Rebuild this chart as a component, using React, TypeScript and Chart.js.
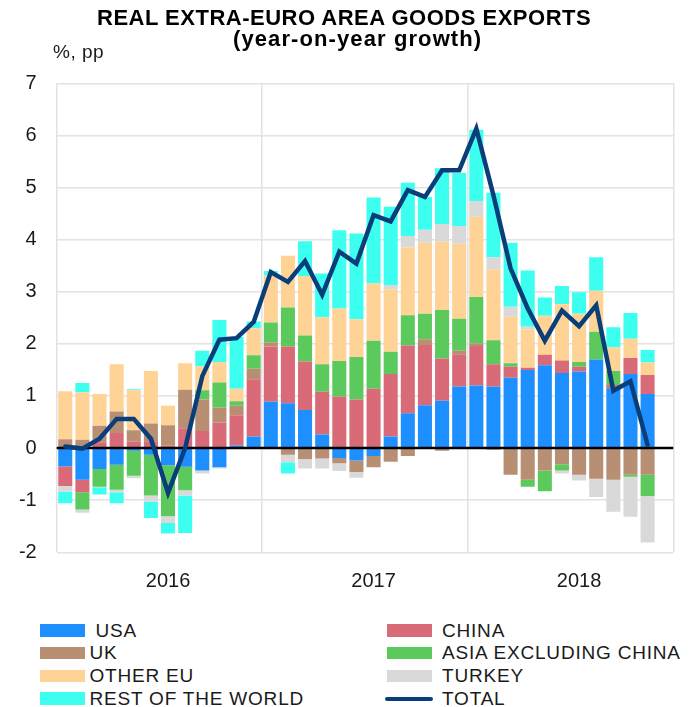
import React, { useEffect, useRef } from 'react';
import { Chart, registerables } from 'chart.js';

Chart.register(...registerables);

// ---- Data (monthly, Jan 2016 – Nov 2018; contributions in pp, total in %) ----
const years = ['2016', '2017', '2018'];

const usa = [
  -0.35, -0.61, -0.40, -0.32, -0.05, -0.13, -0.33, -0.36, -0.43, -0.37, 0.05, 0.22,
  0.89, 0.86, 0.73, 0.26, -0.19, -0.24, -0.15, 0.22, 0.67, 0.82, 0.91, 1.18,
  1.20, 1.18, 1.35, 1.50, 1.59, 1.44, 1.47, 1.70, 1.15, 1.42, 1.04,
];
const china = [
  -0.38, -0.24, 0.11, 0.29, 0.12, 0.13, 0.05, 0.38, 0.33, 0.49, 0.58, 1.10,
  1.06, 1.09, 0.93, 0.82, 0.99, 0.93, 1.14, 1.20, 1.30, 1.16, 0.81, 0.62,
  0.76, 0.43, 0.21, 0.04, 0.20, 0.24, 0.09, 0.0, 0.06, 0.31, 0.36,
];
const uk = [
  0.17, 0.16, 0.32, 0.41, 0.22, 0.34, 0.39, 0.74, 0.60, 0.29, 0.18, 0.20,
  0.08, -0.13, -0.21, -0.20, -0.10, -0.22, -0.22, -0.26, -0.15, 0.11, -0.05, 0.07,
  0.05, -0.03, -0.51, -0.61, -0.43, -0.31, -0.51, -0.59, -0.61, -0.51, -0.51,
];
const asiaExChina = [
  0.0, -0.33, -0.34, -0.48, -0.48, -0.78, -0.98, -0.45, 0.18, 0.48, 0.09, 0.26,
  0.38, 0.75, 0.50, 0.53, 0.68, 0.82, 0.92, 0.43, 0.58, 0.49, 0.93, 0.61,
  0.89, 0.46, 0.07, -0.13, -0.40, -0.12, 0.09, 0.53, 0.27, -0.04, -0.41,
];
const otherEu = [
  0.92, 0.91, 0.61, 0.91, 0.77, 1.01, 0.37, 0.51, 0.46, 0.39, 0.24, 0.52,
  0.90, 0.99, 1.14, 0.90, 1.01, 0.72, 1.10, 1.20, 1.30, 1.36, 1.31, 1.44,
  1.54, 1.36, 0.89, 0.74, 0.75, 1.08, 0.93, 0.79, 0.45, 0.37, 0.24,
];
const turkey = [
  -0.11, -0.06, -0.01, -0.05, -0.05, -0.12, -0.13, -0.10, -0.06, -0.02, 0.0, 0.0,
  0.0, -0.14, -0.18, -0.19, -0.15, -0.11, 0.0, 0.08, 0.22, 0.25, 0.34, 0.34,
  0.30, 0.23, 0.19, 0.05, 0.0, -0.06, -0.11, -0.35, -0.61, -0.77, -0.89,
];
const restOfWorld = [
  -0.22, 0.18, -0.14, -0.21, 0.02, -0.31, -0.20, -0.72, 0.30, 0.81, 0.99, 0.13,
  0.09, -0.22, 0.67, 0.84, 1.50, 1.65, 1.65, 1.50, 1.02, 0.63, 1.07, 1.02,
  1.37, 1.24, 1.23, 1.08, 0.35, 0.35, 0.41, 0.64, 0.39, 0.49, 0.24,
];
const total = [
  0.03, -0.01, 0.18, 0.56, 0.56, 0.18, -0.86, 0.0, 1.38, 2.08, 2.11, 2.42,
  3.38, 3.19, 3.59, 2.94, 3.77, 3.54, 4.47, 4.35, 4.95, 4.82, 5.33, 5.33,
  6.13, 4.85, 3.45, 2.68, 2.06, 2.64, 2.34, 2.74, 1.10, 1.28, 0.06,
];

const seriesNames = ['USA', 'CHINA', 'UK', 'ASIA EXCLUDING CHINA', 'OTHER EU', 'TURKEY', 'REST OF THE WORLD', 'TOTAL'];
const yTicks = [-2, 7];

// ---- Styles ----
const FONT = '"Liberation Sans", Arial, Helvetica, sans-serif';
const TEXT = '#1a1a1a';
const GRID = '#e2e2e2';
const barColors = ['#1e8fff', '#d96b78', '#b88f73', '#5cc95c', '#ffd395', '#d9d9d9', '#3cfff0'];
const lineColor = '#0a3e7b';

// one category per month; a year label at the middle month of each year
const categories: string[] = [];
years.forEach((y) => {
  for (let m = 0; m < 12; m++) categories.push(m === 6 ? y : '');
});

const zeroLine = {
  id: 'zeroLine',
  beforeDatasetDraw(chart: any, args: any) {
    if (args.index !== 7) return;
    const ctx = chart.ctx;
    const y = chart.scales.y.getPixelForValue(0);
    const { left, right } = chart.chartArea;
    ctx.save();
    ctx.strokeStyle = '#000';
    ctx.lineWidth = 2.5;
    ctx.beginPath();
    ctx.moveTo(left, y);
    ctx.lineTo(right, y);
    ctx.stroke();
    ctx.restore();
  },
};

const legendLeft = [0, 2, 4, 6];
const legendRight = [1, 3, 5, 7];
const rowBaselines = [636.7, 659.5, 682.5, 705];

export default function App() {
  const ref = useRef<HTMLCanvasElement | null>(null);

  useEffect(() => {
    if (!ref.current) return;
    const series = [usa, china, uk, asiaExChina, otherEu, turkey, restOfWorld];
    const barSets = series.map((d, i) => ({
      type: 'bar' as const,
      label: seriesNames[i],
      data: d,
      backgroundColor: barColors[i],
      borderWidth: 0,
      stack: 'bars',
      order: 1,
      categoryPercentage: 1,
      barPercentage: 0.82,
    }));
    const chart = new Chart(ref.current, {
      type: 'bar',
      data: {
        labels: categories,
        datasets: [
          ...barSets,
          {
            type: 'line' as const,
            label: seriesNames[7],
            data: total,
            borderColor: lineColor,
            backgroundColor: lineColor,
            borderWidth: 4.5,
            pointRadius: 0,
            tension: 0,
            stack: 'total',
            order: 0,
            borderCapStyle: 'round',
            borderJoinStyle: 'miter',
          } as any,
        ],
      },
      options: {
        responsive: false,
        animation: false,
        layout: { padding: { left: 0, right: 17.7, top: 83.3, bottom: 0 } },
        plugins: {
          legend: { display: false },
          title: { display: false },
          tooltip: { enabled: false },
        },
        scales: {
          x: {
            stacked: true,
            grid: {
              offset: true,
              drawTicks: false,
              lineWidth: 1.5,
              color: (c: any) => {
                if (c.type !== 'tick') return GRID;
                return c.index % 12 === 0 ? GRID : 'rgba(0,0,0,0)';
              },
            },
            border: { display: false },
            ticks: {
              autoSkip: false,
              maxRotation: 0,
              minRotation: 0,
              padding: 17,
              color: TEXT,
              font: { family: FONT, size: 20 },
            },
            afterFit: (s: any) => {
              s.height = 47.7;
            },
          },
          y: {
            stacked: true,
            min: yTicks[0],
            max: yTicks[1],
            grid: { drawTicks: false, lineWidth: 1.5, color: GRID },
            border: { display: false },
            ticks: {
              stepSize: 1,
              padding: 20,
              color: TEXT,
              font: { family: FONT, size: 20 },
            },
            afterFit: (s: any) => {
              s.width = 56.7;
            },
          },
        },
      } as any,
      plugins: [zeroLine],
    });
    return () => chart.destroy();
  }, []);

  const textTop = (baseline: number, size: number) => baseline - 0.8465 * size;

  const legendItem = (idx: number, col: 'L' | 'R', row: number) => {
    const base = rowBaselines[row];
    const swLeft = col === 'L' ? 40 : 387;
    const txLeft = col === 'L' ? 89.5 : 442;
    const isLine = idx === 7;
    const label = idx === 0 ? ' ' + seriesNames[idx] : seriesNames[idx];
    return (
      <React.Fragment key={idx}>
        {isLine ? (
          <div
            style={{
              position: 'absolute',
              left: 385,
              top: base - 8.5,
              width: 48,
              height: 4.5,
              borderRadius: 2.5,
              background: lineColor,
            }}
          />
        ) : (
          <div
            style={{
              position: 'absolute',
              left: swLeft,
              top: base - 12.7,
              width: 45,
              height: 12.5,
              background: barColors[idx],
            }}
          />
        )}
        <div
          style={{
            position: 'absolute',
            left: txLeft,
            top: textTop(base, 19),
            fontSize: 19,
            lineHeight: '19px',
            letterSpacing: '0.8px',
            whiteSpace: 'pre',
            fontFamily: FONT,
            color: TEXT,
          }}
        >
          {label}
        </div>
      </React.Fragment>
    );
  };

  return (
    <div
      style={{
        position: 'absolute',
        left: 0,
        top: 0,
        width: 691,
        height: 707,
        background: '#fff',
        overflow: 'hidden',
        fontFamily: FONT,
      }}
    >
      <canvas ref={ref} width={691} height={600} style={{ position: 'absolute', left: 0, top: 0 }} />
      <div
        style={{
          position: 'absolute',
          left: 97,
          top: textTop(26, 22),
          fontSize: 22,
          lineHeight: '22px',
          fontWeight: 'bold',
          letterSpacing: '0.5px',
          whiteSpace: 'pre',
          color: '#000',
        }}
      >
        REAL EXTRA-EURO AREA GOODS EXPORTS
      </div>
      <div
        style={{
          position: 'absolute',
          left: 233,
          top: textTop(46.5, 22),
          fontSize: 22,
          lineHeight: '22px',
          fontWeight: 'bold',
          letterSpacing: '1.1px',
          whiteSpace: 'pre',
          color: '#000',
        }}
      >
        (year-on-year growth)
      </div>
      <div
        style={{
          position: 'absolute',
          left: 53,
          top: textTop(58, 19),
          fontSize: 19,
          lineHeight: '19px',
          letterSpacing: '0.5px',
          whiteSpace: 'pre',
          color: TEXT,
        }}
      >
        %, pp
      </div>
      {legendLeft.map((idx, r) => legendItem(idx, 'L', r))}
      {legendRight.map((idx, r) => legendItem(idx, 'R', r))}
    </div>
  );
}
